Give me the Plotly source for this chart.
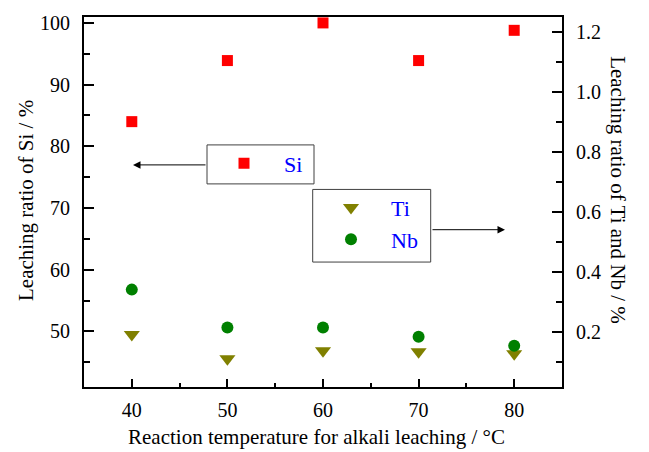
import plotly.graph_objects as go

temperature = [40, 50, 60, 70, 80]
si_ratio = [84.0, 93.9, 100.0, 93.9, 98.8]
ti_ratio = [0.193, 0.112, 0.139, 0.135, 0.129]
nb_ratio = [0.342, 0.216, 0.216, 0.185, 0.155]

x_title = "Reaction temperature for alkali leaching / °C"
y_title = "Leaching ratio of Si / %"
y2_title = "Leaching ratio of Ti and Nb / %"

FONT = "Times New Roman, Liberation Serif, serif"

fig = go.Figure()
fig.add_trace(go.Scatter(x=temperature, y=si_ratio, mode="markers", name="Si", showlegend=True,
                         marker=dict(symbol="square", size=11, color="#FF0000", line=dict(width=0)),
                         yaxis="y", legend="legend"))
fig.add_trace(go.Scatter(x=temperature, y=ti_ratio, mode="markers", name="Ti", showlegend=True,
                         marker=dict(symbol="triangle-down", size=14, color="#808000", line=dict(width=0)),
                         yaxis="y2", legend="legend2"))
fig.add_trace(go.Scatter(x=temperature, y=nb_ratio, mode="markers", name="Nb", showlegend=True,
                         marker=dict(symbol="circle", size=12, color="#008000", line=dict(width=0)),
                         yaxis="y2", legend="legend2"))

L, R, T, B = 84, 87, 13, 65
W, H = 649, 452
pw, ph = W - L - R, H - T - B


def px(xp):
    return (xp - L) / pw


def py(yp):
    return (H - B - yp) / ph


axis_common = dict(showline=True, linewidth=2, linecolor="black", showgrid=False, zeroline=False,
                   ticks="inside", ticklen=10, tickwidth=2, tickcolor="black",
                   tickfont=dict(family=FONT, size=20, color="black"))

fig.update_layout(
    width=W, height=H,
    margin=dict(l=L, r=R, t=T, b=B),
    paper_bgcolor="white", plot_bgcolor="white",
    showlegend=True,
    xaxis=dict(range=[35, 85], dtick=10, tick0=0, mirror=True, ticklen=8,
               minor=dict(ticks="inside", ticklen=4, dtick=5, tickwidth=2, tickcolor="black"),
               ticklabelstandoff=4,
               **{k: v for k, v in axis_common.items() if k != "ticklen"}),
    yaxis=dict(range=[40.99, 100.96], dtick=10, tick0=0, mirror=False,
               minor=dict(ticks="inside", ticklen=6, dtick=5, tickwidth=2, tickcolor="black"),
               ticklabelstandoff=8, **axis_common),
    yaxis2=dict(range=[0.018, 1.249], dtick=0.2, tick0=0, overlaying="y", side="right",
                tickformat=".1f",
                minor=dict(ticks="inside", ticklen=6, dtick=0.1, tickwidth=2, tickcolor="black"),
                ticklabelstandoff=8, **axis_common),
    legend=dict(x=px(204), y=py(161), xanchor="left", yanchor="middle", itemwidth=70,
                bgcolor="rgba(0,0,0,0)", borderwidth=0,
                font=dict(family=FONT, size=22, color="#0000FF")),
    legend2=dict(x=px(311), y=py(222), xanchor="left", yanchor="middle", itemwidth=70,
                 bgcolor="rgba(0,0,0,0)", borderwidth=0,
                 font=dict(family=FONT, size=22, color="#0000FF")),
    shapes=[
        dict(type="rect", xref="paper", yref="paper", x0=px(207), x1=px(314), y0=py(181.7), y1=py(142.3),
             line=dict(color="#404040", width=1)),
        dict(type="rect", xref="paper", yref="paper", x0=px(312.7), x1=px(430.7), y0=py(260.7), y1=py(187.3),
             line=dict(color="#404040", width=1)),
    ],
    annotations=[
        dict(xref="paper", yref="paper", x=px(133), y=py(162.5), text="", showarrow=True,
             ax=74, ay=0, arrowhead=2, arrowsize=1.5, arrowwidth=1, arrowcolor="black"),
        dict(xref="paper", yref="paper", x=px(505), y=py(228), text="", showarrow=True,
             ax=-74, ay=0, arrowhead=2, arrowsize=1.5, arrowwidth=1, arrowcolor="black"),
        dict(xref="paper", yref="paper", x=px(26), y=py(199), text=y_title, showarrow=False,
             xanchor="center", yanchor="middle",
             textangle=-90, font=dict(family=FONT, size=21, color="black")),
        dict(xref="paper", yref="paper", x=px(618), y=py(188), text=y2_title, showarrow=False,
             xanchor="center", yanchor="middle",
             textangle=90, font=dict(family=FONT, size=21, color="black")),
        dict(xref="paper", yref="paper", x=px(316), y=py(438), text=x_title, showarrow=False,
             xanchor="center", yanchor="middle",
             font=dict(family=FONT, size=21, color="black")),
    ],
)

fig.write_html("out.html")
